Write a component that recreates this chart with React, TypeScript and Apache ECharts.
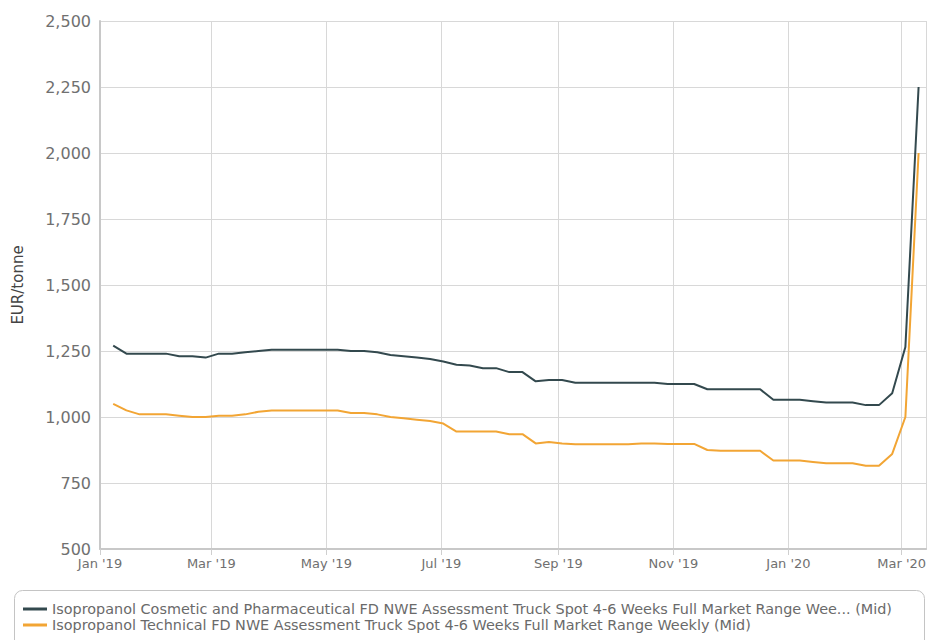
import React, { useEffect, useRef } from "react";
import * as echarts from "echarts";

// Weekly assessments, first one on 8 Jan 2019
const START_DATE = [2019, 0, 8];
const WEEK_DAYS = 7;

const cosmeticPharma = [
  1270, 1240, 1240, 1240, 1240, 1230, 1230, 1225, 1240, 1240,
  1245, 1250, 1255, 1255, 1255, 1255, 1255, 1255, 1250, 1250,
  1245, 1235, 1230, 1225, 1220, 1210, 1198, 1195, 1185, 1185,
  1170, 1170, 1135, 1140, 1140, 1130, 1130, 1130, 1130, 1130,
  1130, 1130, 1125, 1125, 1125, 1105, 1105, 1105, 1105, 1105,
  1065, 1065, 1065, 1060, 1055, 1055, 1055, 1045, 1045, 1090,
  1265, 2250,
];

const technical = [
  1050, 1025, 1010, 1010, 1010, 1005, 1000, 1000, 1005, 1005,
  1010, 1020, 1025, 1025, 1025, 1025, 1025, 1025, 1015, 1015,
  1010, 1000, 995, 990, 985, 975, 945, 945, 945, 945,
  935, 935, 900, 905, 900, 897, 897, 897, 897, 897,
  900, 900, 898, 898, 898, 875, 872, 872, 872, 872,
  835, 835, 835, 830, 825, 825, 825, 815, 815, 860,
  1000, 2000,
];

const seriesNames = [
  "Isopropanol Cosmetic and Pharmaceutical FD NWE Assessment Truck Spot 4-6 Weeks Full Market Range Wee... (Mid)",
  "Isopropanol Technical FD NWE Assessment Truck Spot 4-6 Weeks Full Market Range Weekly (Mid)",
];

const monthNames = ["Jan", "Feb", "Mar", "Apr", "May", "Jun", "Jul", "Aug", "Sep", "Oct", "Nov", "Dec"];

const yMin = 500;
const yMax = 2500;
const yStep = 250;
const yTitle = "EUR/tonne";

const xMinDate = [2019, 0, 1];
const xMaxDate = [2020, 2, 14];

const COLORS = ["#33494e", "#f2a534"];

function weekDate(i: number) {
  const d = new Date(START_DATE[0], START_DATE[1], START_DATE[2] + i * WEEK_DAYS);
  return d.getTime();
}

export default function App() {
  const ref = useRef<HTMLDivElement>(null);

  useEffect(() => {
    document.body.style.margin = "0";
    if (!ref.current) return;
    const chart = echarts.init(ref.current, undefined, { renderer: "svg" });

    const seriesData = [cosmeticPharma, technical].map((vals) =>
      vals.map((v, i) => [weekDate(i), v])
    );

    chart.setOption({
      animation: false,
      backgroundColor: "#ffffff",
      grid: {
        left: 100,
        top: 21,
        width: 832,
        bottom: 91,
        containLabel: false,
      },
      xAxis: {
        type: "time",
        min: new Date(xMinDate[0], xMinDate[1], xMinDate[2]).getTime(),
        max: new Date(xMaxDate[0], xMaxDate[1], xMaxDate[2]).getTime(),
        splitNumber: 7,
        axisLine: { show: true, lineStyle: { color: "#c8c8c8", width: 2 } },
        axisTick: { show: true, length: 6, lineStyle: { color: "#cfcfcf" } },
        splitLine: { show: true, lineStyle: { color: "#d8d8d8", width: 1 } },
        minorTick: { show: false },
        axisLabel: {
          color: "#707070",
          fontFamily: "DejaVu Sans",
          fontSize: 13,
          margin: 8,
          hideOverlap: false,
          formatter: (val: number) => {
            const d = new Date(val);
            return monthNames[d.getMonth()] + " '" + String(d.getFullYear()).slice(2);
          },
        },
      },
      yAxis: {
        type: "value",
        min: yMin,
        max: yMax,
        interval: yStep,
        name: yTitle,
        nameLocation: "middle",
        nameGap: 75,
        nameTextStyle: { color: "#444", fontFamily: "DejaVu Sans", fontSize: 15 },
        axisLine: { show: true, lineStyle: { color: "#c8c8c8", width: 2 } },
        axisTick: { show: false },
        splitLine: { show: true, lineStyle: { color: "#d8d8d8", width: 1 } },
        axisLabel: {
          color: "#707070",
          fontFamily: "DejaVu Sans",
          fontSize: 16,
          margin: 9,
          formatter: (v: number) => v.toLocaleString("en-US"),
        },
      },
      legend: {
        orient: "vertical",
        left: 23,
        top: 601,
        itemWidth: 24,
        itemHeight: 3,
        itemGap: 0,
        icon: "rect",
        textStyle: {
          color: "#6a6a6a",
          fontFamily: "DejaVu Sans",
          fontSize: 14.4,
          lineHeight: 16,
          padding: [0, 0, 0, 0],
        },
        padding: 0,
        data: seriesNames,
      },
      graphic: [
        {
          type: "rect",
          left: 12,
          top: 588,
          shape: { width: 910, height: 80, r: 8 },
          style: { fill: "none", stroke: "#c4c4c4", lineWidth: 1 },
          silent: true,
        },
      ],
      series: seriesNames.map((name, k) => ({
        name,
        type: "line",
        data: seriesData[k],
        showSymbol: false,
        symbol: "none",
        color: COLORS[k],
        lineStyle: { width: 2, color: COLORS[k] },
        z: k === 0 ? 3 : 2,
      })),
    });

    return () => chart.dispose();
  }, []);

  return <div ref={ref} style={{ width: 929, height: 640 }} />;
}
